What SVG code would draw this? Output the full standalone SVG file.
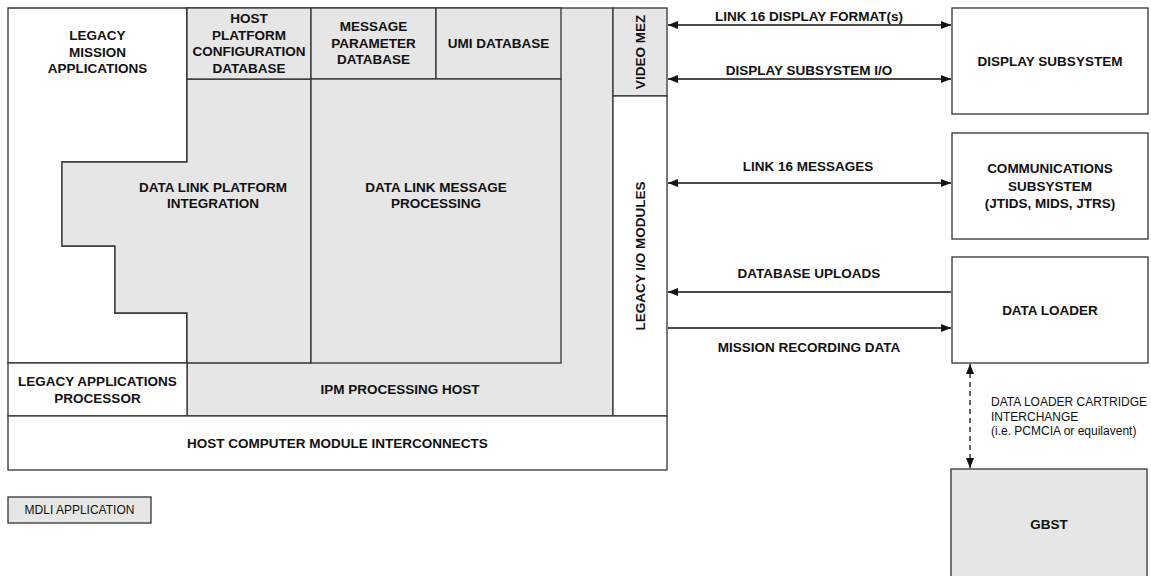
<svg xmlns="http://www.w3.org/2000/svg" width="1151" height="576" viewBox="0 0 1151 576">
<defs>
<style>
.b{stroke:#333;stroke-width:1.3;}
.w{fill:#fff;}
.g{fill:#e6e6e6;}
.t{font-family:"Liberation Sans",Arial,sans-serif;font-weight:bold;font-size:13.5px;fill:#111;text-anchor:middle;}
.n{font-family:"Liberation Sans",Arial,sans-serif;font-size:12px;fill:#111;}
.c{stroke:#111;stroke-width:1.3;fill:none;}
</style>
<marker id="ah" viewBox="0 0 10 8" refX="10" refY="4" markerWidth="10" markerHeight="8" markerUnits="userSpaceOnUse" orient="auto-start-reverse">
<path d="M0,0 L10,4 L0,8 z" fill="#111"/>
</marker>
</defs>
<rect width="1151" height="576" fill="#fff"/>

<g id="legacy-mission-applications">
<polygon class="b w" points="8,8 187,8 187,162 62,162 62,246 115,246 115,313 187,313 187,363 8,363"/>
<text class="t"><tspan x="97.5" y="40">LEGACY</tspan><tspan x="97.5" y="57">MISSION</tspan><tspan x="97.5" y="73">APPLICATIONS</tspan></text>
</g>

<g id="ipm-processing-host">
<rect class="b g" x="187" y="8" width="426" height="408"/>
<text class="t" x="400" y="394">IPM PROCESSING HOST</text>
</g>

<g id="data-link-platform-integration">
<polygon class="b g" points="187,79 311,79 311,363 187,363 187,313 115,313 115,246 62,246 62,162 187,162"/>
<text class="t"><tspan x="213" y="192">DATA LINK PLATFORM</tspan><tspan x="213" y="208">INTEGRATION</tspan></text>
</g>

<g id="host-platform-configuration-database">
<rect class="b g" x="187" y="8" width="124" height="71"/>
<text class="t"><tspan x="249" y="23">HOST</tspan><tspan x="249" y="39.5">PLATFORM</tspan><tspan x="249" y="56">CONFIGURATION</tspan><tspan x="249" y="72.5">DATABASE</tspan></text>
</g>

<g id="message-parameter-database">
<rect class="b g" x="311" y="8" width="125" height="71"/>
<text class="t"><tspan x="373.5" y="31">MESSAGE</tspan><tspan x="373.5" y="48">PARAMETER</tspan><tspan x="373.5" y="64">DATABASE</tspan></text>
</g>

<g id="umi-database">
<rect class="b g" x="436" y="8" width="125" height="71"/>
<text class="t" x="498.5" y="48">UMI DATABASE</text>
</g>

<g id="data-link-message-processing">
<rect class="b g" x="311" y="79" width="250" height="284"/>
<text class="t"><tspan x="436" y="192">DATA LINK MESSAGE</tspan><tspan x="436" y="208">PROCESSING</tspan></text>
</g>

<g id="legacy-applications-processor">
<rect class="b w" x="8" y="363" width="179" height="53"/>
<text class="t"><tspan x="97.5" y="386">LEGACY APPLICATIONS</tspan><tspan x="97.5" y="403">PROCESSOR</tspan></text>
</g>

<g id="video-mez">
<rect class="b g" x="613" y="8" width="54" height="88"/>
<text class="t" transform="translate(645,52) rotate(-90)" x="0" y="0">VIDEO MEZ</text>
</g>

<g id="legacy-io-modules">
<rect class="b w" x="613" y="96" width="54" height="320"/>
<text class="t" transform="translate(645,256) rotate(-90)" x="0" y="0">LEGACY I/O MODULES</text>
</g>

<g id="host-computer-module-interconnects">
<rect class="b w" x="8" y="416" width="659" height="54"/>
<text class="t" x="337.5" y="448">HOST COMPUTER MODULE INTERCONNECTS</text>
</g>

<g id="display-subsystem">
<rect class="b w" x="952" y="8" width="196" height="106"/>
<text class="t" x="1050" y="66">DISPLAY SUBSYSTEM</text>
</g>

<g id="communications-subsystem">
<rect class="b w" x="952" y="133" width="196" height="106"/>
<text class="t"><tspan x="1050" y="173">COMMUNICATIONS</tspan><tspan x="1050" y="191">SUBSYSTEM</tspan><tspan x="1050" y="208">(JTIDS, MIDS, JTRS)</tspan></text>
</g>

<g id="data-loader">
<rect class="b w" x="952" y="257" width="196" height="106"/>
<text class="t" x="1050" y="315">DATA LOADER</text>
</g>

<g id="gbst">
<rect class="b g" x="951" y="469" width="196" height="110"/>
<text class="t" x="1049" y="529">GBST</text>
</g>

<g id="legend">
<rect class="b g" x="8" y="497" width="143" height="26"/>
<text class="n" x="79.5" y="514" text-anchor="middle">MDLI APPLICATION</text>
</g>

<g id="connectors">
<line class="c" x1="668" y1="25" x2="951" y2="25" marker-start="url(#ah)" marker-end="url(#ah)"/>
<text class="t" x="809" y="21">LINK 16 DISPLAY FORMAT(s)</text>
<line class="c" x1="668" y1="79" x2="951" y2="79" marker-start="url(#ah)" marker-end="url(#ah)"/>
<text class="t" x="809" y="75">DISPLAY SUBSYSTEM I/O</text>
<line class="c" x1="668" y1="183" x2="951" y2="183" marker-start="url(#ah)" marker-end="url(#ah)"/>
<text class="t" x="808" y="171">LINK 16 MESSAGES</text>
<line class="c" x1="951" y1="292" x2="668" y2="292" marker-end="url(#ah)"/>
<text class="t" x="809" y="278">DATABASE UPLOADS</text>
<line class="c" x1="668" y1="328" x2="951" y2="328" marker-end="url(#ah)"/>
<text class="t" x="809" y="352">MISSION RECORDING DATA</text>
<line class="c" x1="970" y1="364" x2="970" y2="468" stroke-dasharray="5,4" marker-start="url(#ah)" marker-end="url(#ah)"/>
<text class="n"><tspan x="991" y="406">DATA LOADER CARTRIDGE</tspan><tspan x="991" y="420.5">INTERCHANGE</tspan><tspan x="991" y="435">(i.e. PCMCIA or equilavent)</tspan></text>
</g>
</svg>
